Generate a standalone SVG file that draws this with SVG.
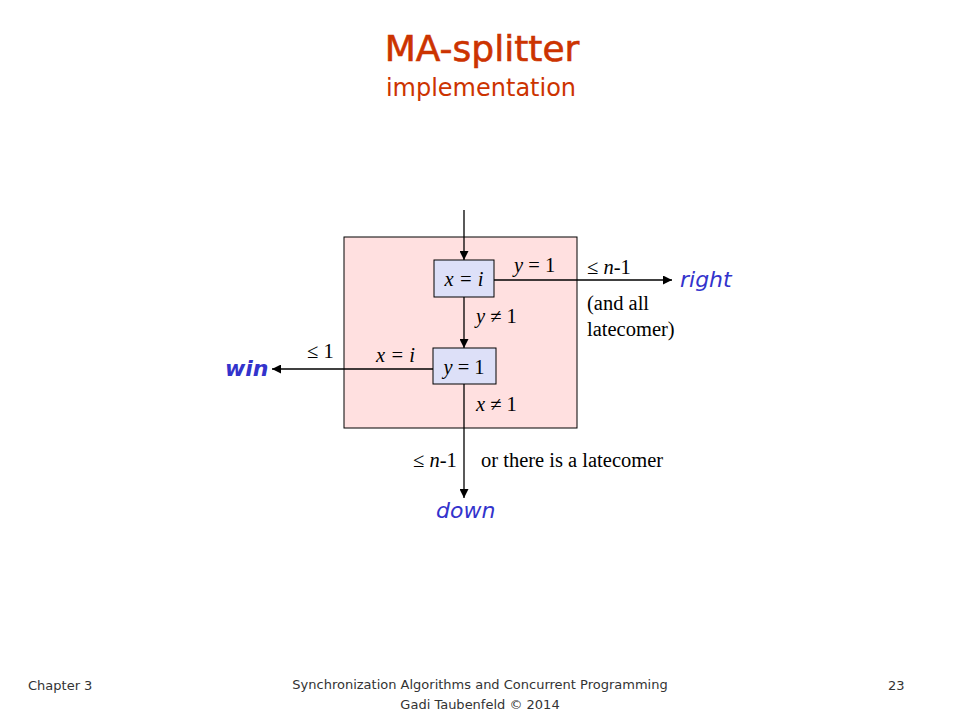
<svg xmlns="http://www.w3.org/2000/svg" width="960" height="720" viewBox="0 0 960 720">
<defs>
<marker id="arr" viewBox="0 0 10 10" refX="10" refY="5" markerWidth="9" markerHeight="9" markerUnits="userSpaceOnUse" orient="auto">
<path d="M0,0 L10,5 L0,10 z" fill="#000"/>
</marker>
<style>
.m{font-family:"Liberation Serif","Times New Roman",serif;font-size:20.5px;fill:#000}
.i{font-style:italic}
.b{font-family:"DejaVu Sans","Liberation Sans",sans-serif;font-style:italic;font-size:22px;fill:#3333CC}
.f{font-family:"DejaVu Sans","Liberation Sans",sans-serif;font-size:13px;fill:#333}
.box{fill:#DDE0F8;stroke:#000;stroke-width:1}
.ln{stroke:#000;stroke-width:1.3;fill:none}
</style>
</defs>
<rect width="960" height="720" fill="#fff"/>
<g id="title">
<text x="482" y="61" text-anchor="middle" font-family="DejaVu Sans, sans-serif" font-size="36" fill="#CC3300" stroke="#CC3300" stroke-width="0.6">MA-splitter</text>
<text x="481" y="96" text-anchor="middle" font-family="DejaVu Sans, sans-serif" font-size="24" fill="#CC3300">implementation</text>
</g>
<g id="splitter">
<rect x="344" y="237" width="233" height="191" fill="#FFE0E0" stroke="#000" stroke-width="1"/>
</g>
<g id="connectors">
<line class="ln" x1="464" y1="210" x2="464" y2="260" marker-end="url(#arr)"/>
<line class="ln" x1="464" y1="297" x2="464" y2="348" marker-end="url(#arr)"/>
<line class="ln" x1="494" y1="280" x2="672" y2="280" marker-end="url(#arr)"/>
<line class="ln" x1="433" y1="369" x2="272" y2="369" marker-end="url(#arr)"/>
<line class="ln" x1="464" y1="384" x2="464" y2="498" marker-end="url(#arr)"/>
</g>
<g id="box1">
<rect class="box" x="434" y="260" width="60" height="37"/>
<text class="m i" x="464" y="286" text-anchor="middle">x = i</text>
</g>
<g id="box2">
<rect class="box" x="433" y="348" width="63" height="36"/>
<text class="m" x="464" y="374" text-anchor="middle"><tspan font-style="italic">y</tspan> = 1</text>
</g>
<g id="labels">
<text class="m" x="514" y="272"><tspan font-style="italic">y</tspan> = 1</text>
<text class="m" x="587" y="274">≤ <tspan font-style="italic">n</tspan>-1</text>
<text class="m" x="587" y="310">(and all</text>
<text class="m" x="587" y="336">latecomer)</text>
<text class="m" x="476" y="323"><tspan font-style="italic">y</tspan> ≠ 1</text>
<text class="m i" x="376" y="362">x = i</text>
<text class="m" x="307" y="358">≤ 1</text>
<text class="m" x="476" y="411"><tspan font-style="italic">x</tspan> ≠ 1</text>
<text class="m" x="413" y="467">≤ <tspan font-style="italic">n</tspan>-1</text>
<text class="m" x="481" y="467">or there is a latecomer</text>
</g>
<g id="right"><text class="b" x="680" y="287">right</text></g>
<g id="win"><text class="b" x="225" y="376" font-weight="bold" font-size="20">win</text></g>
<g id="down"><text class="b" x="436" y="518">down</text></g>
<g id="footer">
<text class="f" x="28" y="690">Chapter 3</text>
<text class="f" x="480" y="689" text-anchor="middle">Synchronization Algorithms and Concurrent Programming</text>
<text class="f" x="480" y="709" text-anchor="middle">Gadi Taubenfeld © 2014</text>
<text class="f" x="888" y="690">23</text>
</g>
</svg>
